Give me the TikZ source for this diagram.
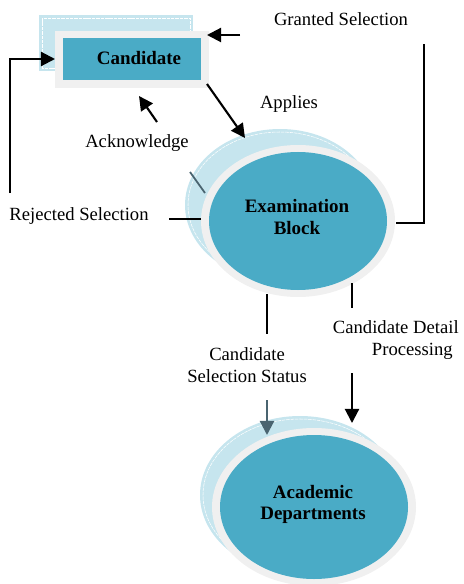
\documentclass[tikz,border=0pt]{standalone}
\usepackage{fontspec}
\setmainfont{Liberation Serif}
\usetikzlibrary{arrows.meta}
\definecolor{paleBlue}{HTML}{C6E5EE}
\definecolor{ringGrey}{HTML}{F0F0F0}
\definecolor{boxTeal}{HTML}{4AABC6}
\definecolor{darkSlate}{HTML}{4A6470}
\tikzset{
  flow/.style={line width=1.2pt, -{Triangle[length=8pt,width=8pt]}},
  plain/.style={line width=1.2pt},
  lbl/.style={font=\fontsize{10.6}{12.5}\selectfont, align=center, inner sep=0pt},
  title/.style={font=\fontsize{10.8}{12}\selectfont\bfseries, align=center, inner sep=0pt},
  outline/.style={white, line width=0.3pt, dashed, dash pattern=on 2pt off 0.5pt}
}
% back ellipse, front ring and teal face
\def\drawBubble#1#2#3#4{
  \fill[paleBlue] (#1) ellipse [x radius=#3, y radius=#4];
  \draw[outline] (#1) ellipse [x radius=#3-3, y radius=#4-3];
  \fill[ringGrey] (#2) ellipse [x radius=#3+2, y radius=#4];
  \fill[boxTeal] (#2) ellipse [x radius=#3-6, y radius=#4-7];
}

\begin{document}
\begin{tikzpicture}[x=0.02cm, y=-0.02cm]
  \useasboundingbox (0,0) rectangle (463,584);
  % Candidate
  \fill[paleBlue] (39,15) rectangle (193,71);
  \draw[outline] (42,18) rectangle (190,68);
  \fill[ringGrey] (55,31) rectangle (209,88);
  \fill[boxTeal] (63,38) rectangle (201,80);
  \node[title] (cand) at (139,58) {Candidate};
  % Examination Block
  \coordinate (EB) at (280,205);
  \coordinate (EF) at (298,221);
  \drawBubble{EB}{EF}{95}{76}
  \node[title] (exam) at (297,217) {Examination\\Block};
  % Academic Departments
  \coordinate (AB) at (300,495);
  \coordinate (AF) at (314,507);
  \drawBubble{AB}{AF}{100}{79}
  \node[title] (acad) at (313,504) {Academic\\Departments};

  % labels
  \node[lbl] (granted) at (341,19) {Granted Selection};
  \node[lbl] (applies) at (289,104) {Applies};
  \node[lbl] (ack) at (137,143) {Acknowledge};
  \node[lbl] (rejected) at (79,216) {Rejected Selection};
  \node[lbl] (status) at (247,365) {Candidate\\Selection Status};
  \node[lbl, align=right, anchor=east] (detail) at (459,340) {Candidate Detail\\Processing\kern3.4pt};

  % Granted Selection
  \coordinate (g1) at (396,223);
  \coordinate (g2) at (424,223);
  \coordinate (g3) at (424,44);
  \coordinate (g4) at (240,35);
  \coordinate (g5) at (207,35);
  \draw[plain] (g1) -- (g2) -- (g3);
  \draw[flow] (g4) -- (g5);
  % Applies
  \coordinate (a1) at (207,84);
  \coordinate (a2) at (245,138);
  \draw[flow] (a1) -- (a2);
  % Acknowledge
  \coordinate (k1) at (205,193);
  \coordinate (k2) at (190,172);
  \coordinate (k3) at (157,122);
  \coordinate (k4) at (139,96);
  \draw[line width=1pt, darkSlate] (k1) -- (k2);
  \draw[flow] (k3) -- (k4);
  % Rejected Selection
  \coordinate (r1) at (201,219);
  \coordinate (r2) at (169,219);
  \coordinate (r3) at (10,193);
  \coordinate (r4) at (10,59);
  \coordinate (r5) at (55,59);
  \draw[plain] (r1) -- (r2);
  \draw[flow] (r3) -- (r4) -- (r5);
  % Candidate Selection Status
  \coordinate (s1) at (267,294);
  \coordinate (s2) at (267,334);
  \coordinate (s3) at (267,400);
  \coordinate (s4) at (267,435);
  \draw[plain] (s1) -- (s2);
  \draw[flow, darkSlate] (s3) -- (s4);
  % Candidate Detail Processing
  \coordinate (d1) at (352,283);
  \coordinate (d2) at (352,308);
  \coordinate (d3) at (352,373);
  \coordinate (d4) at (352,423);
  \draw[plain] (d1) -- (d2);
  \draw[flow] (d3) -- (d4);
\end{tikzpicture}
\end{document}
